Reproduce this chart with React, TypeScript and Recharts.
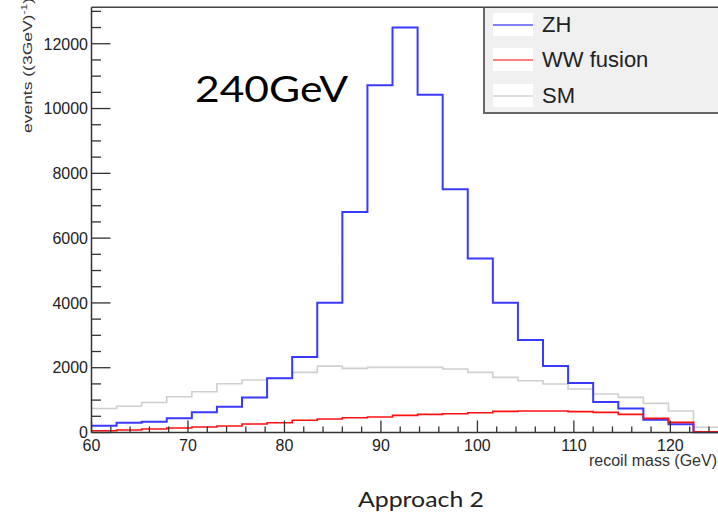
import React from 'react';
import { ComposedChart, Line, XAxis, YAxis, ReferenceLine } from 'recharts';

// bin edges of the recoil-mass histogram (GeV), 25 bins
const binEdges = [60, 62.6, 65.2, 67.8, 70.4, 73, 75.6, 78.2, 80.8, 83.4, 86, 88.6, 91.2, 93.8, 96.4, 99, 101.6, 104.2, 106.8, 109.4, 112, 114.6, 117.2, 119.8, 122.4, 125];

// events per bin
const zhCounts = [210, 300, 333, 437, 623, 796, 1080, 1671, 2330, 4003, 6808, 10716, 12500, 10429, 7509, 5371, 4003, 2852, 2050, 1530, 940, 740, 390, 255, 5];
const wwCounts = [56, 77, 108, 139, 170, 200, 262, 303, 376, 416, 456, 478, 530, 560, 581, 611, 653, 663, 663, 643, 622, 560, 437, 314, 25];
const smCounts = [740, 810, 925, 1104, 1258, 1505, 1620, 1680, 1856, 2050, 1979, 2010, 2010, 2010, 1958, 1856, 1702, 1599, 1495, 1341, 1187, 1085, 900, 663, 160];

const xTicks = [60, 62, 64, 66, 68, 70, 72, 74, 76, 78, 80, 82, 84, 86, 88, 90, 92, 94, 96, 98, 100, 102, 104, 106, 108, 110, 112, 114, 116, 118, 120, 122, 124];
const yTicks = [0, 500, 1000, 1500, 2000, 2500, 3000, 3500, 4000, 4500, 5000, 5500, 6000, 6500, 7000, 7500, 8000, 8500, 9000, 9500, 10000, 10500, 11000, 11500, 12000, 12500, 13000];

const legendItems = [
  { name: 'ZH', color: '#0000ff' },
  { name: 'WW fusion', color: '#ff0000' },
  { name: 'SM', color: '#bbbbbb' },
];

// stepAfter needs a closing point at the last edge
const data = binEdges.map((x, i) => {
  const k = Math.min(i, zhCounts.length - 1);
  return { x, zh: zhCounts[k], ww: wwCounts[k], sm: smCounts[k] };
});

const AXIS_FONT = '"Liberation Sans", Arial, Helvetica, sans-serif';
const TEXT_FONT = 'Lato, "Open Sans", sans-serif';

const XTick = (props: any) => {
  const { x, y, payload } = props;
  const major = payload.value % 10 === 0;
  return (
    <g>
      <line x1={x} x2={x} y1={y} y2={y - (major ? 12 : 6)} stroke="#333" strokeWidth={1.3} />
      {major && (
        <text x={x} y={y + 18} textAnchor="middle" fontSize={16} fill="#222" fontFamily={AXIS_FONT}>
          {payload.value}
        </text>
      )}
    </g>
  );
};

const YTick = (props: any) => {
  const { x, y, payload } = props;
  const major = payload.value % 2000 === 0;
  return (
    <g>
      <line x1={x} x2={x + (major ? 19 : 9.5)} y1={y} y2={y} stroke="#333" strokeWidth={1.3} />
      {major && (
        <text x={x - 3.5} y={y} dy="0.36em" textAnchor="end" fontSize={16} fill="#222" fontFamily={AXIS_FONT}>
          {payload.value}
        </text>
      )}
    </g>
  );
};

export default function App() {
  return (
    <div style={{ position: 'absolute', left: 0, top: 0, width: 718, height: 516, overflow: 'hidden', background: '#fff' }}>
      <ComposedChart width={720} height={516} data={data} margin={{ top: 7.3, right: 1.4, left: 0, bottom: 53.5 }}>
        <XAxis
          dataKey="x"
          type="number"
          domain={[60, 125]}
          ticks={xTicks}
          interval={0}
          tick={<XTick />}
          tickSize={0}
          tickMargin={0}
          height={30}
          axisLine={{ stroke: '#333', strokeWidth: 1.5 }}
        />
        <YAxis
          type="number"
          domain={[0, 13125]}
          ticks={yTicks}
          interval={0}
          tick={<YTick />}
          tickSize={0}
          tickMargin={0}
          width={91.5}
          axisLine={{ stroke: '#333', strokeWidth: 1.5 }}
        />
        <ReferenceLine y={13125} stroke="#444" strokeWidth={1.5} />
        <Line dataKey="sm" type="stepAfter" stroke="#cfcfcf" strokeWidth={1.6} dot={false} isAnimationActive={false} />
        <Line dataKey="zh" type="stepAfter" stroke="#3a3aff" strokeWidth={2} dot={false} isAnimationActive={false} />
        <Line dataKey="ww" type="stepAfter" stroke="#ff1010" strokeWidth={1.6} dot={false} isAnimationActive={false} />
      </ComposedChart>

      <svg width={718} height={516} style={{ position: 'absolute', left: 0, top: 0, pointerEvents: 'none' }}>
        <text
          transform="translate(31.5,133) rotate(-90)"
          fontSize={13}
          fill="#333"
          fontFamily={AXIS_FONT}
          textLength={135}
          lengthAdjust="spacingAndGlyphs"
        >
          events ((3GeV)<tspan dy={-5} fontSize={9}>-1</tspan><tspan dy={5}>)</tspan>
        </text>
        <text x={717} y={466} textAnchor="end" fontSize={16} fill="#333" fontFamily={AXIS_FONT}>
          recoil mass (GeV)
        </text>
        <text x={195} y={102} fontSize={36} fill="#000" fontFamily={TEXT_FONT} textLength={153} lengthAdjust="spacingAndGlyphs">
          240GeV
        </text>
        <text x={358} y={507} fontSize={22} fill="#222" fontFamily={TEXT_FONT} textLength={126} lengthAdjust="spacingAndGlyphs">
          Approach 2
        </text>
      </svg>

      <div
        style={{
          position: 'absolute',
          left: 483,
          top: 7,
          width: 240,
          height: 107,
          boxSizing: 'border-box',
          background: '#f0f0f0',
          borderLeft: '2px solid #666',
          borderBottom: '2px solid #666',
          borderTop: '1.5px solid #444',
        }}
      >
        {legendItems.map((item, i) => (
          <div key={item.name} style={{ position: 'absolute', left: 8, top: 4.5 + i * 35.5, height: 23, display: 'flex', alignItems: 'center' }}>
            <svg width={40} height={23} style={{ background: '#fff', display: 'block' }}>
              <line x1={0} x2={40} y1={12} y2={12} stroke={item.color} strokeWidth={1.2} />
            </svg>
            <span style={{ marginLeft: 9, fontFamily: AXIS_FONT, fontSize: 22, color: '#222', lineHeight: '23px' }}>{item.name}</span>
          </div>
        ))}
      </div>
    </div>
  );
}
